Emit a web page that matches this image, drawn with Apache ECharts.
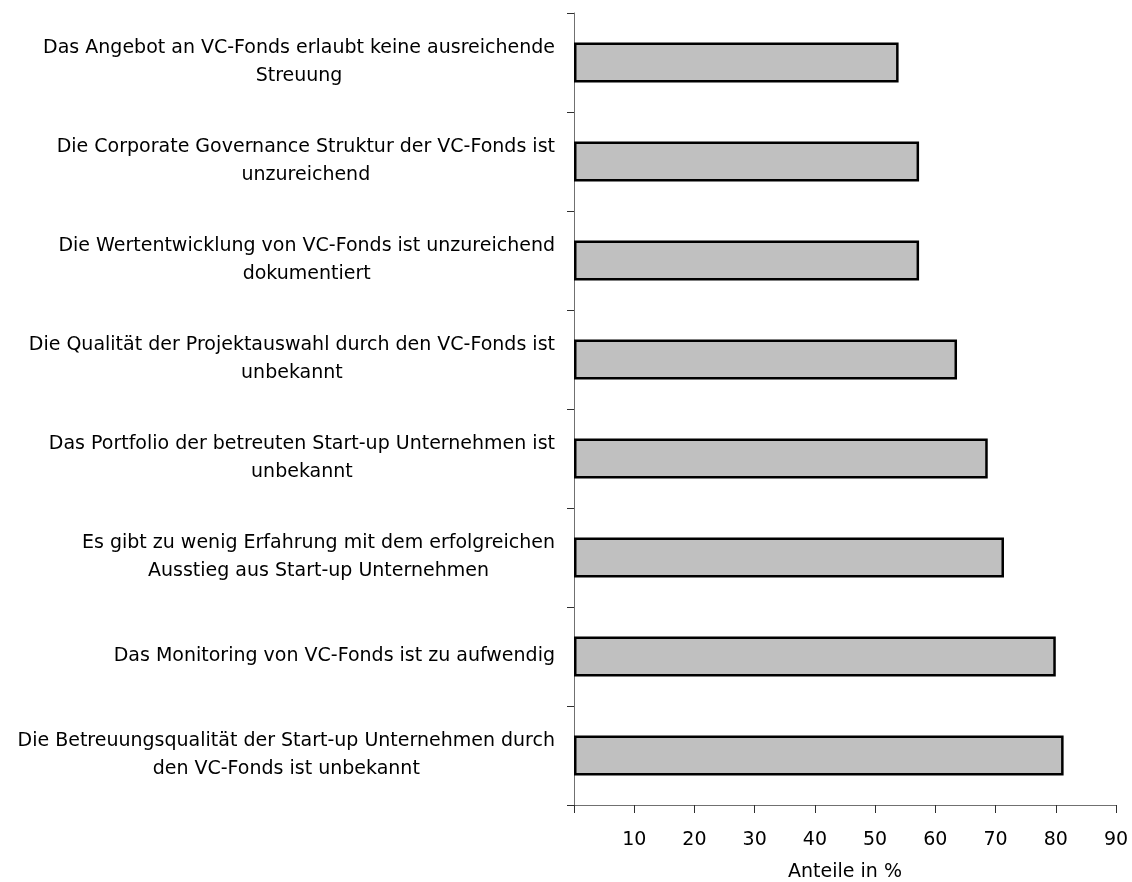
<!DOCTYPE html>
<html>
<head>
<meta charset="utf-8">
<script src="https://cdn.jsdelivr.net/npm/echarts@6/dist/echarts.min.js"></script>
<style>
html,body{margin:0;padding:0;background:#fff;}
#chart{width:1132px;height:882px;}
</style>
</head>
<body>
<div id="chart"></div>
<script>
const categories = [
  "Das Angebot an VC-Fonds erlaubt keine ausreichende\nStreuung",
  "Die Corporate Governance Struktur der VC-Fonds ist\nunzureichend",
  "Die Wertentwicklung von VC-Fonds ist unzureichend\ndokumentiert",
  "Die Qualität der Projektauswahl durch den VC-Fonds ist\nunbekannt",
  "Das Portfolio der betreuten Start-up Unternehmen ist\nunbekannt",
  "Es gibt zu wenig Erfahrung mit dem erfolgreichen\nAusstieg aus Start-up Unternehmen",
  "Das Monitoring von VC-Fonds ist zu aufwendig",
  "Die Betreuungsqualität der Start-up Unternehmen durch\nden VC-Fonds ist unbekannt"
];
const values = [53.9, 57.3, 57.3, 63.6, 68.7, 71.4, 80.0, 81.3];
const xAxisTitle = "Anteile in %";
const xMin = 0, xMax = 90, xStep = 10;

const FONT = "DejaVu Sans";
const chart = echarts.init(document.getElementById('chart'), null, {renderer: 'canvas'});
chart.setOption({
  backgroundColor: '#ffffff',
  animation: false,
  grid: {left: 574, right: 16, top: 13, bottom: 77, containLabel: false, outerBoundsMode: 'none'},
  xAxis: {
    type: 'value',
    min: xMin, max: xMax, interval: xStep,
    name: xAxisTitle,
    nameLocation: 'middle',
    nameGap: 58,
    nameTextStyle: {fontFamily: FONT, fontSize: 19, color: '#000'},
    axisLine: {show: true, lineStyle: {color: '#707070', width: 1}},
    axisTick: {show: true, length: 8, lineStyle: {color: '#303030', width: 1}},
    axisLabel: {
      margin: 26, fontFamily: FONT, fontSize: 19, color: '#000',
      formatter: v => v === 0 ? '' : String(v)
    },
    splitLine: {show: false}
  },
  yAxis: {
    type: 'category',
    data: categories,
    inverse: true,
    axisLine: {show: true, lineStyle: {color: '#707070', width: 1}},
    axisTick: {show: true, length: 7, alignWithLabel: false, lineStyle: {color: '#303030', width: 1}},
    axisLabel: {
      margin: 19,
      fontFamily: FONT, fontSize: 19, color: '#000',
      formatter: v => v.split('\n').map(l => '{c|' + l + '}').join('\n'),
      rich: {c: {align: 'center', fontFamily: FONT, fontSize: 19, lineHeight: 28, color: '#000'}}
    },
    splitLine: {show: false}
  },
  series: [{
    type: 'bar',
    data: values,
    barWidth: 40,
    itemStyle: {color: '#c0c0c0', borderColor: '#000', borderWidth: 2.5},
    silent: true
  }]
});
</script>
</body>
</html>
